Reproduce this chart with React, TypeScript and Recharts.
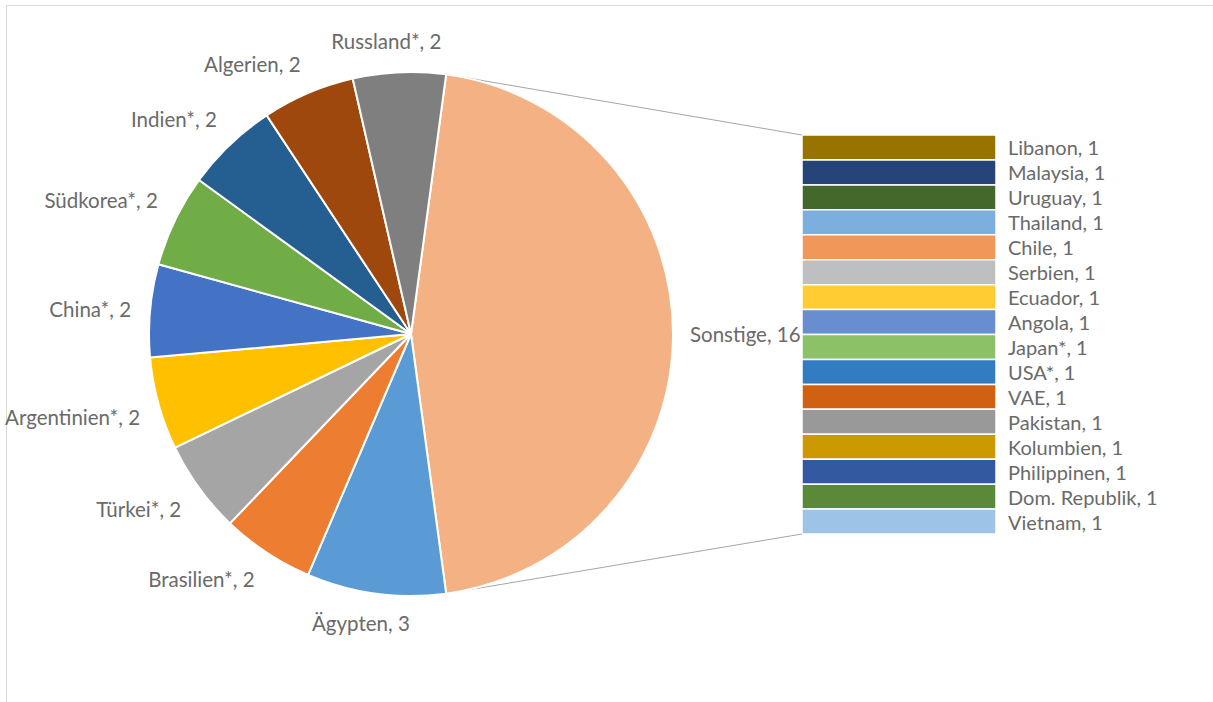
import { PieChart, Pie, Cell, BarChart, Bar, XAxis, YAxis } from "recharts";

const pieNames = ["Sonstige", "Ägypten", "Brasilien*", "Türkei*", "Argentinien*", "China*", "Südkorea*", "Indien*", "Algerien", "Russland*"];
const pieValues = [16, 3, 2, 2, 2, 2, 2, 2, 2, 2];
const pieColors = ["#F4B183", "#5B9BD5", "#ED7D31", "#A5A5A5", "#FFC000", "#4472C4", "#70AD47", "#255E91", "#9E480E", "#7F7F7F"];

const barNames = ["Libanon", "Malaysia", "Uruguay", "Thailand", "Chile", "Serbien", "Ecuador", "Angola", "Japan*", "USA*", "VAE", "Pakistan", "Kolumbien", "Philippinen", "Dom. Republik", "Vietnam"];
const barValues = [1, 1, 1, 1, 1, 1, 1, 1, 1, 1, 1, 1, 1, 1, 1, 1];
const barColors = ["#997300", "#264478", "#43682B", "#7CAFDD", "#F1975A", "#BEBFC1", "#FFCD33", "#698ED0", "#8CC168", "#327DC2", "#D26012", "#999999", "#CC9A00", "#335AA1", "#5A8A39", "#9DC3E6"];

const FONT = "Lato, 'Open Sans', sans-serif";
const TEXT = "#6a6a6a";

const CX = 411;
const CY = 334;
const R = 262;
const total = pieValues.reduce((a, b) => a + b, 0);
const START = ((pieValues[0] / total) * 360) / 2;
const END = START - 360;

const BAR_LEFT = 802;
const BAR_TOP = 135;
const BAR_W = 194;
const BAR_H = 399;

const pieData = pieNames.map((name, i) => ({ name, value: pieValues[i] }));
const barRow: Record<string, number | string> = { cat: "Sonstige" };
barNames.forEach((_, i) => {
  barRow["k" + i] = barValues[i];
});

const RAD = Math.PI / 180;

function renderPieLabel(props: any) {
  const { midAngle, name, value } = props;
  const dx = Math.cos(-midAngle * RAD);
  const dy = Math.sin(-midAngle * RAD);
  const off = dy > 0.5 ? 22 : dx > 0.9 ? 17 : 19;
  const x = CX + (R + off) * dx;
  const y = CY + (R + off) * dy;
  const anchor = dx > 0.2 ? "start" : dx < -0.2 ? "end" : "middle";
  const baseline = dy < -0.2 ? "auto" : dy > 0.2 ? "hanging" : "central";
  const yy = dy < -0.2 ? y - 4 : y;
  const xx = anchor === "middle" ? x - 12 : x;
  return (
    <text x={xx} y={yy} textAnchor={anchor} dominantBaseline={baseline} fill={TEXT} fontSize={20.5} fontFamily={FONT}>
      {`${name}, ${value}`}
    </text>
  );
}

export default function App() {
  const sonstigeEnd = START - (pieValues[0] / total) * 360;
  const p1 = { x: CX + R * Math.cos(START * RAD), y: CY - R * Math.sin(START * RAD) };
  const p2 = { x: CX + R * Math.cos(sonstigeEnd * RAD), y: CY - R * Math.sin(sonstigeEnd * RAD) };

  return (
    <div style={{ position: "fixed", left: 0, top: 0, width: 1213, height: 702, background: "#fff", overflow: "hidden" }}>
      <div style={{ position: "absolute", left: 6, top: 5, width: 1300, height: 800, border: "1.5px solid #d9d9d9" }} />
      <svg width={1213} height={702} style={{ position: "absolute", left: 0, top: 0 }}>
        <line x1={p1.x} y1={p1.y} x2={BAR_LEFT} y2={BAR_TOP} stroke="#a6a6a6" strokeWidth={1} />
        <line x1={p2.x} y1={p2.y} x2={BAR_LEFT} y2={BAR_TOP + BAR_H} stroke="#a6a6a6" strokeWidth={1} />
      </svg>
      <div style={{ position: "absolute", left: 0, top: 0 }}>
        <PieChart width={1213} height={702} margin={{ top: 0, right: 0, bottom: 0, left: 0 }}>
          <Pie
            data={pieData}
            dataKey="value"
            nameKey="name"
            cx={CX}
            cy={CY}
            outerRadius={R}
            startAngle={START}
            endAngle={END}
            stroke="#ffffff"
            strokeWidth={2}
            label={renderPieLabel}
            labelLine={false}
            isAnimationActive={false}
          >
            {pieData.map((d, i) => (
              <Cell key={d.name} fill={pieColors[i]} />
            ))}
          </Pie>
        </PieChart>
      </div>
      <div style={{ position: "absolute", left: BAR_LEFT, top: BAR_TOP }}>
        <BarChart
          width={400}
          height={BAR_H}
          data={[barRow]}
          margin={{ top: 0, right: 400 - BAR_W, bottom: 0, left: 0 }}
          barCategoryGap={0}
          style={{ overflow: "visible" }}
        >
          <XAxis dataKey="cat" hide />
          <YAxis hide reversed domain={[0, barValues.reduce((a, b) => a + b, 0)]} />
          {barNames.map((name, i) => (
            <Bar
              key={name}
              dataKey={"k" + i}
              stackId="s"
              fill={barColors[i]}
              stroke="#ffffff"
              strokeWidth={1.5}
              isAnimationActive={false}
              label={(p: any) => (
                <text
                  x={p.x + p.width + 12}
                  y={p.y + p.height / 2}
                  dominantBaseline="central"
                  fill={TEXT}
                  fontSize={20}
                  fontFamily={FONT}
                >
                  {`${name}, ${barValues[i]}`}
                </text>
              )}
            />
          ))}
        </BarChart>
      </div>
    </div>
  );
}
